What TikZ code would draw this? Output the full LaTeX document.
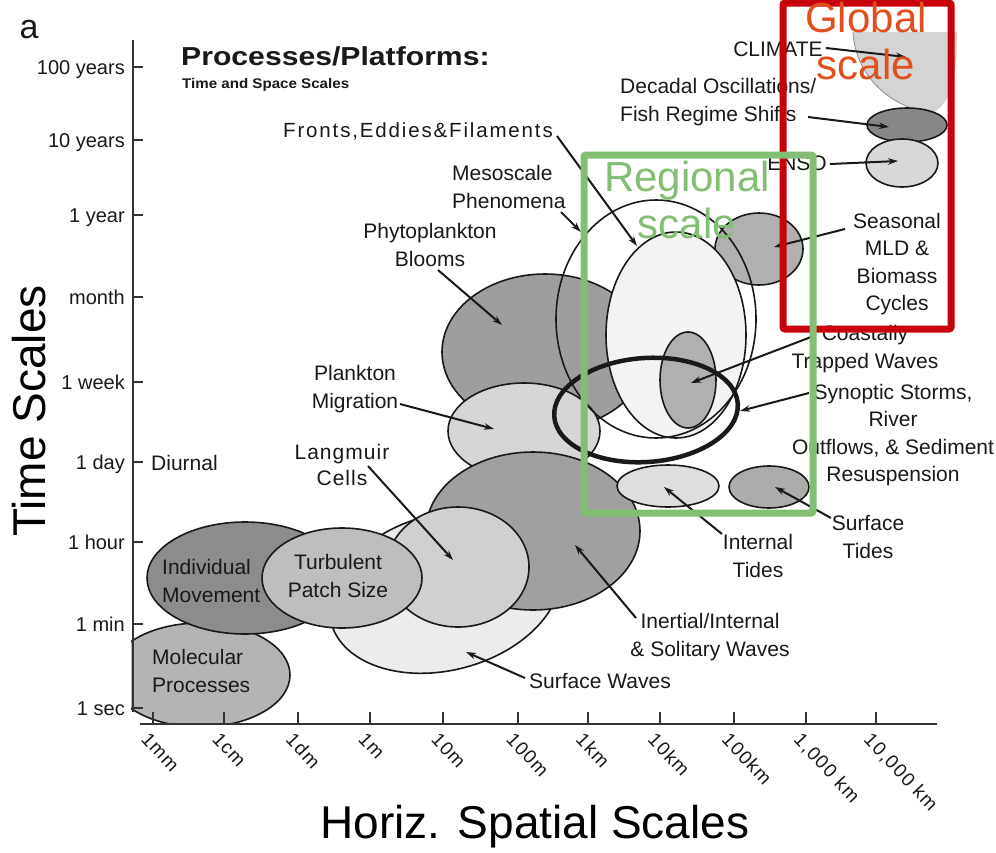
\documentclass[tikz,border=0pt]{standalone}
\usepackage{fontspec}
\setmainfont{Liberation Sans}
\usepackage{graphicx}
\usetikzlibrary{arrows.meta}
\definecolor{gred}{RGB}{200,0,12}
\definecolor{gorange}{RGB}{226,78,28}
\definecolor{rgreen}{RGB}{130,190,115}
\definecolor{txt}{RGB}{25,25,25}
\definecolor{c135}{RGB}{135,135,135}
\definecolor{c140}{RGB}{140,140,140}
\definecolor{c158}{RGB}{158,158,158}
\definecolor{c160}{RGB}{160,160,160}
\definecolor{c170}{RGB}{172,172,172}
\definecolor{c175}{RGB}{176,176,176}
\definecolor{c178}{RGB}{180,180,180}
\definecolor{c190}{RGB}{190,190,190}
\definecolor{c208}{RGB}{208,208,208}
\definecolor{c210}{RGB}{212,212,212}
\definecolor{c214}{RGB}{214,214,214}
\definecolor{c215}{RGB}{216,216,216}
\definecolor{c220}{RGB}{222,222,222}
\definecolor{c236}{RGB}{236,236,236}
\definecolor{c243}{RGB}{243,243,243}
\begin{document}
\begin{tikzpicture}[x=1pt,y=-1pt,
  lbl/.style={font=\fontsize{21}{27.5}\selectfont, text=txt, align=center, inner sep=0pt},
  lbll/.style={lbl, align=left, anchor=west},
  ptr/.style={line width=2pt, draw=black!90, -{Stealth[length=10pt,width=6.5pt]}},
  blob/.style={draw=black!90, line width=1.6pt},
  axisline/.style={line width=1.8pt, draw=black!80},
  ytl/.style={font=\fontsize{20}{24}\selectfont, text=txt, anchor=base east, inner sep=0pt},
  xtl/.style={font=\fontsize{19}{24}\selectfont\addfontfeatures{LetterSpace=7}, text=txt, anchor=north west, rotate=-47, inner sep=0pt},
  big/.style={font=\fontsize{46}{52}\selectfont, text=black, inner sep=0pt},
  overlay/.style={font=\fontsize{42}{47}\selectfont, align=center, inner sep=0pt},
]
\useasboundingbox (0,0) rectangle (996,852);
\fill[white] (0,0) rectangle (996,852);

% ---------- process ellipses ----------
\begin{scope}
  \clip (131,590) rectangle (320,723);
  \draw[blob, fill=c178] (200,675) ellipse [x radius=90, y radius=52];
\end{scope}
\draw[blob, fill=c140] (245,578) ellipse [x radius=98, y radius=56];
\draw[blob, fill=c236, rotate around={15:(445,592)}] (445,592) ellipse [x radius=118, y radius=78];
\draw[blob, fill=c158] (545,352) ellipse [x radius=103, y radius=78];
\draw[blob, fill=c214] (524,431) ellipse [x radius=76, y radius=48];
\draw[blob, fill=c160] (533,531) ellipse [x radius=107, y radius=79];
\draw[blob, fill=c208] (458,567) ellipse [x radius=71, y radius=60];
\draw[blob, fill=c190] (342,578) ellipse [x radius=80, y radius=50];
\draw[blob, fill=c175] (759,249) ellipse [x radius=44, y radius=36];
\draw[blob, fill=c243] (676,335) ellipse [x radius=70, y radius=103];
\draw[blob, fill=c175] (688,380) ellipse [x radius=28, y radius=48];
\draw[blob] (656,319) ellipse [x radius=100, y radius=119];
\draw[line width=4.5pt, draw=black!90, rotate around={4:(646,410)}] (646,410) ellipse [x radius=92, y radius=52];
\draw[blob, fill=c220] (668,486) ellipse [x radius=51, y radius=21];
\draw[blob, fill=c170] (769,487) ellipse [x radius=40, y radius=21];

% climate cup, decadal, ENSO
\fill[c210] (853,32) -- (957,32) .. controls (957,80) and (950,105) .. (932,113)
  .. controls (890,108) and (855,75) .. (853,32) -- cycle;
\draw[black!45, line width=0.8pt] (853,32) .. controls (855,75) and (890,108) .. (932,113);
\draw[blob, fill=c135] (907,125) ellipse [x radius=40, y radius=17];
\draw[blob, fill=c215] (902,163) ellipse [x radius=36, y radius=24];

% ---------- axes ----------
\draw[axisline] (133,40) -- (133,712);
\draw[axisline] (140,724) -- (937,724);
\foreach \yy/\tl in {67/100 years,140/10 years,215/1 year,297/month,382/1 week,462/1 day,542/1 hour,624/1 min,708/1 sec}{
  \draw[axisline] (133,\yy) -- (143,\yy);
  \node[ytl] (yt\yy) at (125,\yy+7.5) {\tl};
}
\foreach \xx/\tl in {153/1mm,224/1cm,298/1dm,370/1m,443/10m,518/100m,588/1km,660/10km,734/100km,806/{1,000 km},876/{10,000 km}}{
  \draw[axisline] (\xx,712) -- (\xx,724);
  \node[xtl] (xt\xx) at (\xx-3,731) {\tl};
}
\node[big, rotate=90] (ylab) at (29,411) {Time Scales};
\node[big] (xlab) at (535,827) {Horiz. Spatial Scales};
\node[font=\fontsize{34}{40}\selectfont, anchor=base, inner sep=0pt, text=txt] (panel) at (29,38) {a};
\node[font=\fontsize{26}{30}\selectfont\bfseries, anchor=base west, inner sep=0pt, text=txt] (title) at (181,65) {\scalebox{1.16}[1]{Processes/Platforms:}};
\node[font=\fontsize{14}{16}\selectfont\bfseries, anchor=base west, inner sep=0pt, text=txt] (subtitle) at (182,88) {\scalebox{1.08}[1]{Time and Space Scales}};
\node[lbl, anchor=base west] (diurnal) at (151,470) {Diurnal};

% ---------- labels ----------
\node[lbl] (climate) at (778,49) {CLIMATE};
\node[lbll] (decadal) at (620,102) {Decadal Oscillations/\\Fish Regime Shifts};
\node[lbl] (enso) at (797,163) {ENSO};
\node[lbl] (seasonal) at (897,264) {Seasonal\\MLD \&\\Biomass\\Cycles};
\node[lbl, font=\fontsize{20.5}{27}\selectfont\addfontfeatures{LetterSpace=9}] (fronts) at (418,131) {Fronts,Eddies\&Filaments};
\node[lbll] (meso) at (452,187) {Mesoscale\\Phenomena};
\node[lbl] (phyto) at (430,245) {Phytoplankton\\Blooms};
\node[lbl] (migr) at (355,389) {Plankton\\Migration};
\node[lbl, font=\fontsize{21}{26}\selectfont\addfontfeatures{LetterSpace=5}] (langm) at (342,465) {Langmuir\\Cells};
\node[lbll] (indiv) at (162,581) {Individual\\Movement};
\node[lbl] (turb) at (338,576) {Turbulent\\Patch Size};
\node[lbll] (molec) at (152,671) {Molecular\\Processes};
\node[lbl, anchor=west] (surfw) at (529,681) {Surface Waves};
\node[lbl] (inert) at (710,637) {Inertial/Internal\\\& Solitary Waves};
\node[lbl] (inttide) at (758,556) {Internal\\Tides};
\node[lbl] (surftide) at (868,537) {Surface\\Tides};
\node[lbl] (coast) at (865,349) {Coastally\\Trapped Waves};
\node[lbl] (synop) at (893,435) {Synoptic Storms,\\River\\Outflows, \& Sediment\\Resuspension};

% ---------- arrow end points ----------
\coordinate (cS) at (826,48);  \coordinate (cE) at (906,57);
\coordinate (dS) at (808,117); \coordinate (dE) at (889,127);
\coordinate (eS) at (830,164); \coordinate (eE) at (898,161);
\coordinate (sS) at (845,229); \coordinate (sE) at (774,247);
\coordinate (fS) at (557,136); \coordinate (fE) at (637,246);
\coordinate (mS) at (561,212); \coordinate (mE) at (581,232);
\coordinate (pS) at (438,270); \coordinate (pE) at (502,325);
\coordinate (gS) at (400,404); \coordinate (gE) at (494,429);
\coordinate (lS) at (368,466); \coordinate (lE) at (453,560);
\coordinate (wS) at (525,678); \coordinate (wE) at (466,652);
\coordinate (iS) at (636,618); \coordinate (iE) at (575,545);
\coordinate (tS) at (722,534); \coordinate (tE) at (664,487);
\coordinate (uS) at (831,518); \coordinate (uE) at (775,487);
\coordinate (kS) at (811,337); \coordinate (kE) at (691,383);
\coordinate (yS) at (809,393); \coordinate (yE) at (740,411);
\foreach \a in {c,d,e,s,f,m,p,g,l,w,i,t,u,k,y}{
  \draw[ptr] (\a S) -- (\a E);
}

% ---------- scale boxes ----------
\draw[gred, line width=7pt, rounded corners=2pt] (783,3) rectangle (951,329);
\draw[rgreen, line width=7pt, rounded corners=2pt] (584,155) rectangle (813,513);
\node[overlay, text=gorange] (glob) at (866,41) {Global\\scale};
\node[overlay, text=rgreen] (regi) at (687,200) {Regional\\scale};
\end{tikzpicture}
\end{document}
